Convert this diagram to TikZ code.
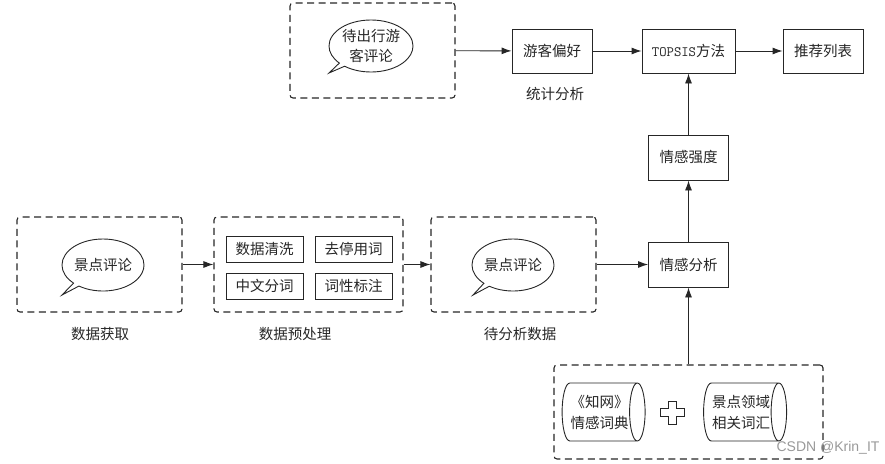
\documentclass[tikz,border=0pt]{standalone}
\usepackage{fontspec}
\setmainfont{Noto Sans CJK SC}
\setsansfont{Liberation Sans}
\usetikzlibrary{arrows.meta,shapes.geometric,shapes.callouts}
\tikzset{
  dashbox/.style={draw=black!85, line width=1.1pt, dash pattern=on 7pt off 4.5pt, rounded corners=3pt},
  stepbox/.style={draw=black!85, line width=.9pt, inner sep=0pt, font=\fontsize{14.5}{17}\selectfont, text=black!85},
  bubble/.style={ellipse callout, callout pointer arc=10, draw=black!85, line width=.9pt, inner sep=0pt, align=center, font=\fontsize{14.5}{20}\selectfont, text=black!85},
  drum/.style={cylinder, draw=black!85, line width=.9pt, aspect=.45, shape border rotate=0, inner sep=0pt, minimum width=58pt, minimum height=83pt, align=center, font=\fontsize{14.5}{21}\selectfont, text=black!85},
  caption/.style={font=\fontsize{14.5}{17}\selectfont, text=black!85},
  flow/.style={draw=black!85, line width=.9pt, -{Latex[length=10pt,width=7pt]}}
}
\begin{document}
\begin{tikzpicture}[x=1pt,y=-1pt]
\useasboundingbox (0,0) rectangle (885,463);
% dashed groups
\node[dashbox, minimum width=165pt, minimum height=95pt] (tourist) at (372.5,50.5) {};
\node[dashbox, minimum width=165pt, minimum height=95pt] (source) at (99.5,264.5) {};
\node[dashbox, minimum width=189pt, minimum height=95pt] (prep) at (308.5,264.5) {};
\node[dashbox, minimum width=165pt, minimum height=95pt] (pending) at (513.5,264.5) {};
\node[dashbox, minimum width=269pt, minimum height=94pt] (lexicon) at (688.5,412) {};
% speech bubbles
\node[bubble, minimum width=84pt, minimum height=52pt, callout absolute pointer={(329,73)}] (tourtext) at (371,46) {待出行游\\客评论};
\node[bubble, minimum width=81pt, minimum height=52pt, callout absolute pointer={(62,295)}] (srctext) at (103,265) {景点评论};
\node[bubble, minimum width=82pt, minimum height=52pt, callout absolute pointer={(473,295)}] (pendtext) at (513,265) {景点评论};
% boxes
\node[stepbox, minimum width=80pt, minimum height=44pt] (prefer) at (552,51) {游客偏好};
\node[stepbox, minimum width=93pt, minimum height=44pt] (topsis) at (688.5,51) {\texttt{\fontsize{14.3}{17}\selectfont TOPSIS}方法};
\node[stepbox, minimum width=80pt, minimum height=44pt] (result) at (823,51) {推荐列表};
\node[stepbox, minimum width=80pt, minimum height=45pt] (strength) at (688.5,157.5) {情感强度};
\node[stepbox, minimum width=80pt, minimum height=45pt] (analysis) at (688.5,264.5) {情感分析};
\node[stepbox, minimum width=77pt, minimum height=26pt] (clean) at (264.5,249) {数据清洗};
\node[stepbox, minimum width=77pt, minimum height=26pt] (stop) at (353.5,249) {去停用词};
\node[stepbox, minimum width=77pt, minimum height=26pt] (seg) at (264.5,286) {中文分词};
\node[stepbox, minimum width=77pt, minimum height=26pt] (pos) at (353.5,286) {词性标注};
% lexicons
\node[drum] (hownet) at (599.5,412) {《知网》\\情感词典};
\node[drum] (scenic) at (741,412) {景点领域\\相关词汇};
\draw[draw=black!85, line width=.9pt] (668,401) -- (676,401) -- (676,408.5) -- (684,408.5) -- (684,416.5) -- (676,416.5) -- (676,424) -- (668,424) -- (668,416.5) -- (660,416.5) -- (660,408.5) -- (668,408.5) -- cycle;
% captions
\node[caption] (cap1) at (555,94) {统计分析};
\node[caption] (cap2) at (100,334) {数据获取};
\node[caption] (cap3) at (295,334) {数据预处理};
\node[caption] (cap4) at (520,334) {待分析数据};
\node[font=\sffamily\fontsize{14}{17}\selectfont, text=black!40, anchor=east] (mark) at (883,448) {CSDN @Krin\_IT};
% connectors
\draw[flow] (tourist) -- (prefer);
\draw[flow] (prefer) -- (topsis);
\draw[flow] (topsis) -- (result);
\draw[flow] (strength) -- (topsis);
\draw[flow] (analysis) -- (strength);
\draw[flow] (lexicon) -- (analysis);
\draw[flow] (source) -- (prep);
\draw[flow] (prep) -- (pending);
\draw[flow] (pending) -- (analysis);
\end{tikzpicture}
\end{document}
